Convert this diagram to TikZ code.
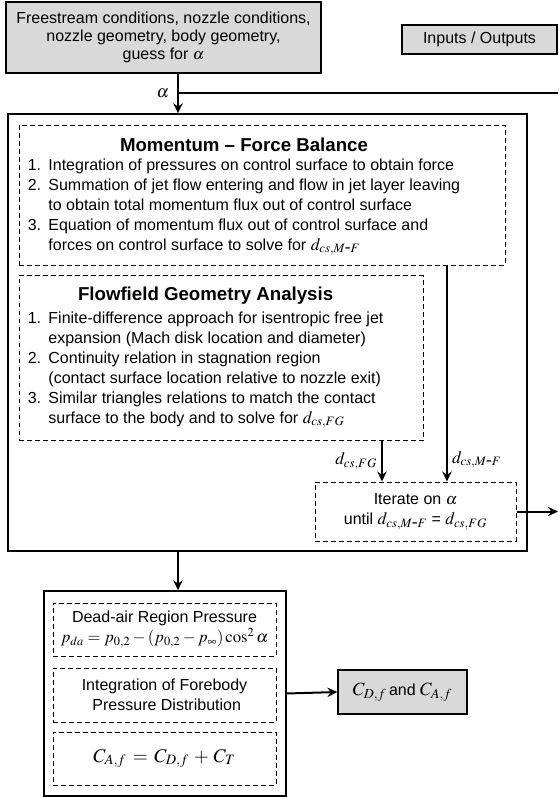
\documentclass[tikz,border=0pt]{standalone}
\usepackage{mathptmx}
\usepackage[no-math]{fontspec}
\setmainfont{Liberation Serif}
\setsansfont{Liberation Sans}
\renewcommand{\familydefault}{\sfdefault}
\usetikzlibrary{positioning,calc,arrows.meta}
\definecolor{iogray}{RGB}{217,217,217}
\newcommand{\listnum}[1]{\makebox[15.5pt][l]{#1}}
\newcommand{\mathsz}[2]{{\fontsize{#1}{15}\selectfont$#2$}}
\newcommand{\dmf}{\mathsz{13}{d_{cs,M\textrm{-}F}}}
\newcommand{\dfg}{\mathsz{13}{d_{cs,FG}}}

\begin{document}
\begin{tikzpicture}[
    x=0.75pt, y=-0.75pt,
    iobox/.style={rectangle, draw, line width=0.9pt, fill=iogray, align=center, font=\fontsize{12}{13.5}\selectfont},
    solidbox/.style={rectangle, draw, line width=1.1pt},
    dashbox/.style={rectangle, draw, line width=0.75pt, dash pattern=on 3.5pt off 2.5pt, align=center, font=\fontsize{12}{15}\selectfont},
    listtext/.style={align=left, inner sep=0pt, font=\fontsize{12}{15}\selectfont},
    heading/.style={inner sep=0pt, font=\fontsize{14}{16}\selectfont\bfseries},
    flow/.style={line width=1.5pt, -{Stealth[length=7.5pt, width=7pt, inset=2.5pt]}},
    dlabel/.style={inner sep=2pt}
  ]
  \useasboundingbox (0,0) rectangle (558,797);

  % Inputs and legend
  \node[iobox, minimum width=236.25pt, minimum height=53.25pt] (inputs) at (163.5,37.5)
    {Freestream conditions, nozzle conditions,\\ nozzle geometry, body geometry,\\ guess for $\alpha$};
  \node[iobox, minimum width=116.25pt, minimum height=21.75pt] (legend) at (479.5,39.5) {Inputs / Outputs};

  % Iteration loop
  \node[solidbox, minimum width=389.25pt, minimum height=327.75pt] (loop) at (267.5,332.5) {};

  \node[dashbox, minimum width=364.5pt, minimum height=105pt] (mfbal) at (262,195) {};
  \node[listtext, anchor=west] (mflist) at ($(mfbal.west)+(9,12)$) {%
    \listnum{1.}Integration of pressures on control surface to obtain force\\
    \listnum{2.}Summation of jet flow entering and flow in jet layer leaving\\
    \listnum{}to obtain total momentum flux out of control surface\\
    \listnum{3.}Equation of momentum flux out of control surface and\\
    \listnum{}forces on control surface to solve for \dmf};
  \node[heading, above=5pt of mflist] (mftitle) {Momentum -- Force Balance};

  \node[dashbox, minimum width=303pt, minimum height=123.75pt] (fgeom) at (221,358) {};
  \node[listtext, anchor=west] (fglist) at ($(fgeom.west)+(9,12)$) {%
    \listnum{1.}Finite-difference approach for isentropic free jet\\
    \listnum{}expansion (Mach disk location and diameter)\\
    \listnum{2.}Continuity relation in stagnation region\\
    \listnum{}(contact surface location relative to nozzle exit)\\
    \listnum{3.}Similar triangles relations to match the contact\\
    \listnum{}surface to the body and to solve for \dfg};
  \node[heading, above=5pt of fglist] (fgtitle) {Flowfield Geometry Analysis};

  \node[dashbox, minimum width=150.75pt, minimum height=44.25pt] (iterate) at (415.5,511.5)
    {Iterate on $\alpha$\\ until \dmf{} = \dfg};

  % Forebody pressure
  \node[solidbox, minimum width=181.5pt, minimum height=153.75pt] (forebody) at (165,693.5) {};
  \node[dashbox, minimum width=167.25pt, minimum height=39.75pt] (deadair) at (164.5,629.5)
    {Dead-air Region Pressure\\ \mathsz{12.5}{p_{da} = p_{0,2} - (p_{0,2} - p_{\infty})\cos^2\alpha}};
  \node[dashbox, minimum width=167.25pt, minimum height=40.5pt] (integ) at (164.5,695)
    {Integration of Forebody\\ \ Pressure Distribution};
  \node[dashbox, minimum width=167.25pt, minimum height=39.75pt] (axial) at (164.5,758.5)
    {\mathsz{14.5}{C_{A,f} \,=\, C_{D,f} \,+\, C_T}};
  \node[iobox, minimum width=96.75pt, minimum height=33pt] (coeffs) at (402.5,692)
    {\mathsz{14}{C_{D,f}}\,and \mathsz{14}{C_{A,f}}};

  % Connectors
  \coordinate (alphax) at (178,93);
  \coordinate (alphaend) at (558,93);
  \coordinate (fgx) at (382,0);
  \coordinate (mfx) at (447,0);
  \draw[flow] (inputs.south -| alphax) -- node[dlabel, left=4pt] {\mathsz{13}{\alpha}} (loop.north -| alphax);
  \draw[line width=1.5pt] (alphax) -- (alphaend);
  \draw[flow] (mfbal.south -| mfx) -- node[dlabel, pos=0.9, right=1pt] {\dmf} (iterate.north -| mfx);
  \draw[flow] (fgeom.south -| fgx) -- node[dlabel, left=1pt] {\dfg} (iterate.north -| fgx);
  \draw[flow] (iterate.east) -- (iterate.east -| alphaend);
  \draw[flow] (loop.south -| alphax) -- (forebody.north -| alphax);
  \draw[flow] (forebody.east) -- (coeffs.west);
\end{tikzpicture}
\end{document}
